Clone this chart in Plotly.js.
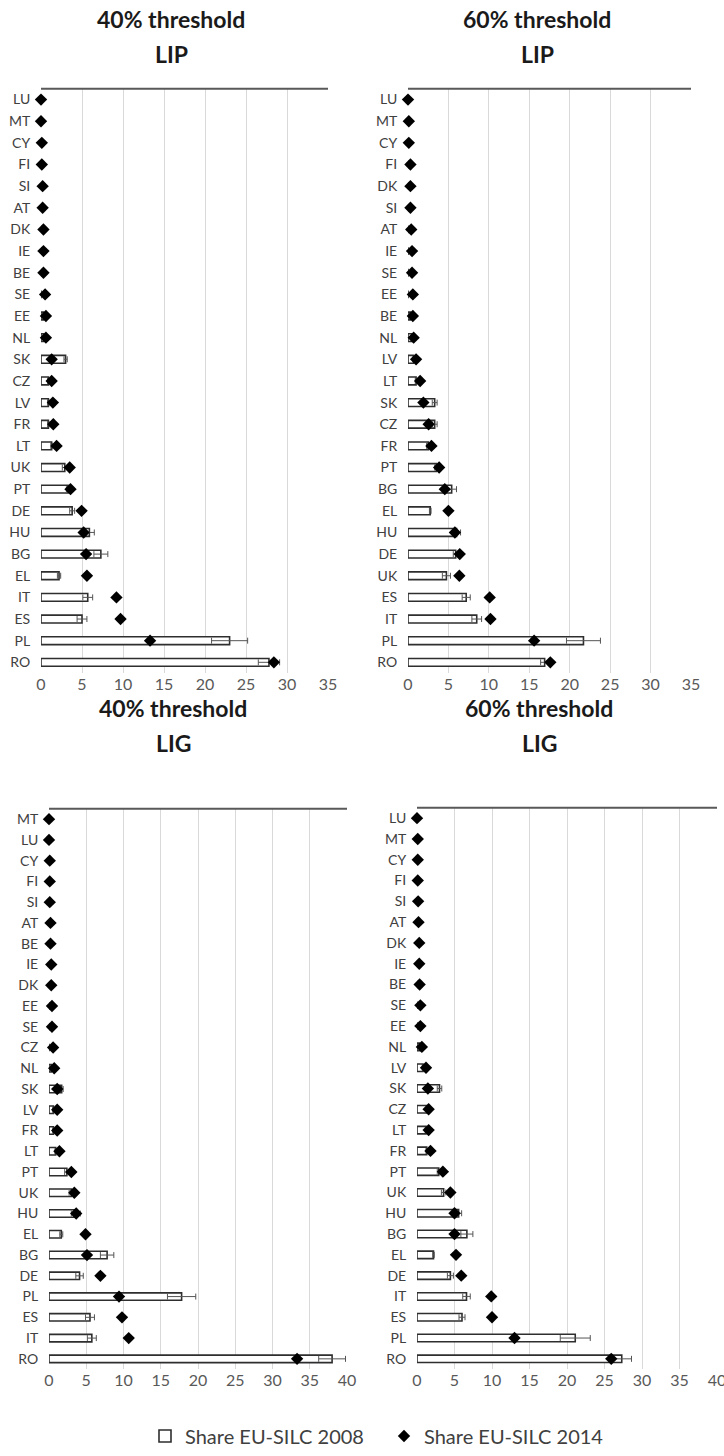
<!DOCTYPE html>
<html>
<head>
<meta charset="utf-8">
<script src="https://cdn.plot.ly/plotly-3.0.1.min.js"></script>
<style>
html,body{margin:0;padding:0;background:#fff;}
#chart{width:724px;height:1456px;}
</style>
</head>
<body>
<div id="chart"></div>
<script>
// ---- Panel A: 40% threshold, LIP ----
var catA = ["LU","MT","CY","FI","SI","AT","DK","IE","BE","SE","EE","NL","SK","CZ","LV","FR","LT","UK","PT","DE","HU","BG","EL","IT","ES","PL","RO"];
var bar2008A = [0,0,0,0,0,0,0,0,0,0,0.3,0.3,3.0,0.9,0.9,0.9,1.3,2.9,3.3,3.8,5.9,7.3,2.2,5.7,5.0,23.0,27.8];
var err2008A = [0,0,0,0,0,0,0,0,0,0,0,0,0.2,0.1,0.1,0.1,0.1,0.3,0.2,0.3,0.6,0.85,0.2,0.6,0.6,2.2,1.3];
var dia2014A = [0,0,0.1,0.1,0.2,0.2,0.3,0.3,0.3,0.5,0.6,0.6,1.3,1.3,1.45,1.5,1.9,3.5,3.6,4.95,5.2,5.5,5.6,9.2,9.7,13.3,28.4];

// ---- Panel B: 60% threshold, LIP ----
var catB = ["LU","MT","CY","FI","DK","SI","AT","IE","SE","EE","BE","NL","LV","LT","SK","CZ","FR","PT","BG","EL","HU","DE","UK","ES","IT","PL","RO"];
var bar2008B = [0,0,0,0,0,0,0,0,0,0,0.3,0.5,0.7,1.0,3.3,3.3,2.5,3.5,5.4,2.75,6.0,5.9,4.75,7.2,8.5,21.7,16.9];
var err2008B = [0,0,0,0,0,0,0,0,0,0,0,0.1,0.1,0.1,0.3,0.3,0.2,0.2,0.6,0.1,0.5,0.3,0.5,0.5,0.6,2.1,0.5];
var dia2014B = [0,0.1,0.1,0.3,0.3,0.3,0.4,0.5,0.5,0.6,0.6,0.7,1.0,1.5,1.9,2.55,2.9,3.85,4.55,5.0,5.8,6.4,6.35,10.1,10.2,15.6,17.6];

// ---- Panel C: 40% threshold, LIG ----
var catC = ["MT","LU","CY","FI","SI","AT","BE","IE","DK","EE","SE","CZ","NL","SK","LV","FR","LT","PT","UK","HU","EL","BG","DE","PL","ES","IT","RO"];
var bar2008C = [0,0,0,0,0,0,0,0,0,0,0,0,0.3,1.7,0.6,0.6,0.9,2.4,3.0,3.6,1.65,7.8,4.1,17.8,5.5,5.75,38.0];
var err2008C = [0,0,0,0,0,0,0,0,0,0,0,0,0.1,0.2,0.1,0.1,0.1,0.3,0.3,0.6,0.2,0.9,0.5,1.9,0.6,0.6,1.8];
var dia2014C = [0,0,0.1,0.1,0.1,0.2,0.2,0.3,0.3,0.4,0.4,0.55,0.7,1.1,1.1,1.1,1.4,3.0,3.4,3.65,4.9,5.1,6.9,9.4,9.8,10.7,33.3];

// ---- Panel D: 60% threshold, LIG ----
var catD = ["LU","MT","CY","FI","SI","AT","DK","IE","BE","SE","EE","NL","LV","SK","CZ","LT","FR","PT","UK","HU","BG","EL","DE","IT","ES","PL","RO"];
var bar2008D = [0,0,0,0,0,0,0,0,0,0,0,0.4,0.8,3.0,1.3,1.2,1.3,2.9,3.55,5.55,6.65,2.2,4.45,6.6,6.0,21.1,27.3];
var err2008D = [0,0,0,0,0,0,0,0,0,0,0,0.1,0.1,0.3,0.1,0.1,0.1,0.2,0.3,0.4,0.8,0.1,0.4,0.5,0.4,2.0,1.3];
var dia2014D = [0,0.1,0.1,0.1,0.15,0.2,0.3,0.3,0.35,0.45,0.45,0.65,1.2,1.45,1.55,1.55,1.8,3.45,4.45,5.0,5.0,5.2,5.9,9.9,10.0,13.0,25.9];

var titlesTop = ["40% threshold","60% threshold","40% threshold","60% threshold"];
var titlesSub = ["LIP","LIP","LIG","LIG"];
var legendNames = ["Share EU-SILC 2008","Share EU-SILC 2014"];

var panels = [
  {cat:catA, bar:bar2008A, err:err2008A, dia:dia2014A},
  {cat:catB, bar:bar2008B, err:err2008B, dia:dia2014B},
  {cat:catC, bar:bar2008C, err:err2008C, dia:dia2014C},
  {cat:catD, bar:bar2008D, err:err2008D, dia:dia2014D}
];

var W = 724, H = 1456;
function fx(px){ return px / W; }
function fy(px){ return 1 - px / H; }

var geo = [
  {x0:41, x1:328, y0:89, y1:675, max:35},
  {x0:408, x1:691, y0:89, y1:675, max:35},
  {x0:49, x1:347, y0:811, y1:1373, max:40},
  {x0:417, x1:717, y0:810, y1:1373, max:40}
];
var titlePos = [
  {x:171, y1:19, y2:54},
  {x:537, y1:19, y2:54},
  {x:173, y1:710, y2:745},
  {x:539, y1:710, y2:745}
];

var FONT = "Lato, 'Open Sans', sans-serif";
var traces = [];
var layout = {
  width: W, height: H,
  margin: {l:0, r:0, t:0, b:0},
  paper_bgcolor: '#fff', plot_bgcolor: '#fff',
  font: {family: FONT, color: '#404040', size: 13},
  barmode: 'overlay',
  showlegend: true,
  legend: {
    orientation: 'h', x: fx(145), xanchor: 'left', y: fy(1440), yanchor: 'middle',
    font: {size: 20, color: '#404040', family: FONT},
    itemwidth: 30, entrywidth: 194, entrywidthmode: 'pixels'
  },
  annotations: [],
  shapes: []
};

panels.forEach(function(p, i){
  var n = i + 1;
  var xa = n === 1 ? 'x' : 'x' + n;
  var ya = n === 1 ? 'y' : 'y' + n;
  var xk = n === 1 ? 'xaxis' : 'xaxis' + n;
  var yk = n === 1 ? 'yaxis' : 'yaxis' + n;
  var g = geo[i];
  traces.push({
    type: 'bar', orientation: 'h', x: p.bar, y: p.cat, xaxis: xa, yaxis: ya,
    name: legendNames[0], legendgroup: 'a', showlegend: i === 0,
    width: 0.36,
    marker: {color: '#ffffff', line: {color: '#2e2e2e', width: 1.6}},
    error_x: {type: 'data', array: p.err, visible: true, color: '#555555', thickness: 1, width: 3},
    hoverinfo: 'x+y'
  });
  traces.push({
    type: 'scatter', mode: 'markers', x: p.dia, y: p.cat, xaxis: xa, yaxis: ya,
    name: legendNames[1], legendgroup: 'b', showlegend: i === 0,
    cliponaxis: false,
    marker: {symbol: 'diamond', size: 9.5, color: '#000000'},
    hoverinfo: 'x+y'
  });
  layout[xk] = {
    domain: [fx(g.x0), fx(g.x1)], anchor: ya,
    range: [0, g.max], dtick: 5, tick0: 0,
    showgrid: true, gridcolor: '#d9d9d9', gridwidth: 1,
    zeroline: false, showline: false, ticks: '',
    ticklabeloverflow: 'allow',
    tickfont: {size: 16, color: '#595959', family: FONT},
    fixedrange: true
  };
  layout[yk] = {
    domain: [fy(g.y1), fy(g.y0)], anchor: xa,
    type: 'category', categoryorder: 'array', categoryarray: p.cat,
    range: [p.cat.length - 0.5, -0.5],
    showgrid: false, zeroline: false, showline: false,
    ticks: 'outside', ticklen: 7, tickcolor: 'rgba(0,0,0,0)',
    tickfont: {size: 14, color: '#404040', family: FONT},
    fixedrange: true
  };
  layout.shapes.push({
    type: 'line', xref: xa + ' domain', yref: ya + ' domain',
    x0: 0, x1: 1, y0: 1, y1: 1,
    line: {color: '#595959', width: 2}
  });
  var t = titlePos[i];
  layout.annotations.push({
    xref: 'paper', yref: 'paper', x: fx(t.x), y: fy(t.y1), xanchor: 'center', yanchor: 'middle',
    text: '<b>' + titlesTop[i] + '</b>', showarrow: false,
    font: {size: 23, color: '#1a1a1a', family: FONT}
  });
  layout.annotations.push({
    xref: 'paper', yref: 'paper', x: fx(t.x), y: fy(t.y2), xanchor: 'center', yanchor: 'middle',
    text: '<b>' + titlesSub[i] + '</b>', showarrow: false,
    font: {size: 23, color: '#1a1a1a', family: FONT}
  });
});

Plotly.newPlot('chart', traces, layout, {displayModeBar: false, staticPlot: true});
</script>
</body>
</html>
